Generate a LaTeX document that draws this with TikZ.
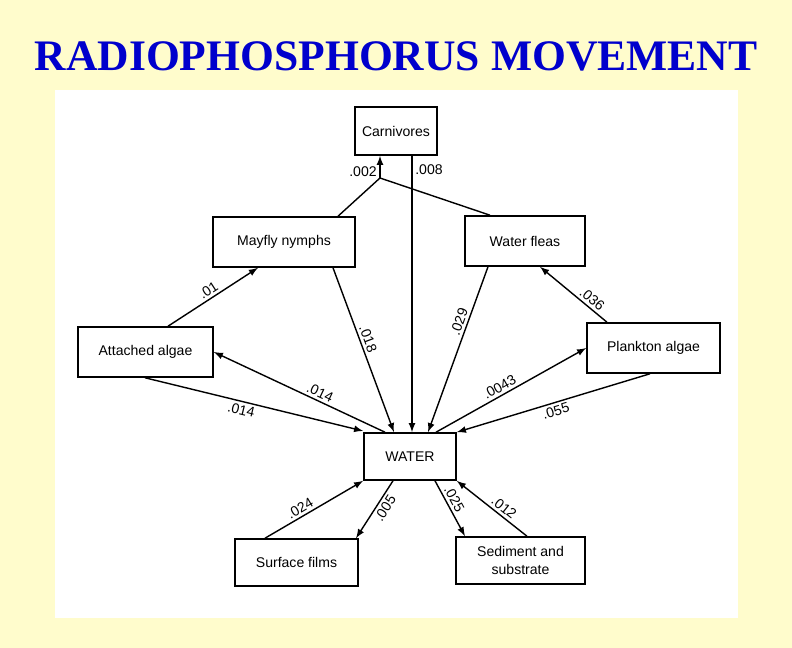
\documentclass[tikz,border=0pt]{standalone}
\usepackage{fontspec}
\setmainfont{Liberation Serif}
\newfontfamily\labfont{Liberation Sans}
\begin{document}
\begin{tikzpicture}[x=0.02cm,y=-0.02cm,
  box/.style={draw,line width=0.9pt,inner sep=0pt,font=\labfont\fontsize{8}{10}\selectfont,align=center},
  fl/.style={line width=0.8pt,-latex},
  ln/.style={line width=0.8pt},
  lab/.style={font=\labfont\fontsize{8}{9}\selectfont,sloped,inner sep=1.5pt}]
\fill[yellow!20] (0,0) rectangle (792,648);
\useasboundingbox (0,0) rectangle (792,648);
\fill[white] (55,90) rectangle (738,618);
\node[font=\bfseries\fontsize{24.8}{28}\selectfont,text=blue!80!black] (title) at (396,56) {RADIOPHOSPHORUS MOVEMENT};
\node[box,minimum width=1.64cm,minimum height=0.96cm] (carn) at (396,131) {Carnivores};
\node[box,minimum width=2.84cm,minimum height=1.0cm] (may) at (284,242) {Mayfly nymphs};
\node[box,minimum width=2.4cm,minimum height=1.0cm] (flea) at (525,241) {Water fleas};
\node[box,minimum width=2.7cm,minimum height=1.0cm] (att) at (145.5,352) {Attached algae};
\node[box,minimum width=2.66cm,minimum height=1.0cm] (plk) at (653.5,348) {Plankton algae};
\node[box,minimum width=1.84cm,minimum height=0.94cm] (water) at (410,456.5) {WATER};
\node[box,minimum width=2.46cm,minimum height=0.94cm] (surf) at (296.5,562.5) {Surface films};
\node[box,minimum width=2.58cm,minimum height=0.94cm] (sed) at (520.5,560.5) {Sediment and\\substrate};
% junction
\coordinate (j) at (380,178);
\draw[ln] (may.north -| 338,0) -- (j);
\draw[ln] (flea.north -| 490,0) -- (j);
\draw[fl] (j) -- (carn.south -| 380,0) node[lab,pos=0.3,anchor=east,sloped=false] {.002};
\draw[fl] (carn.south -| 412,0) -- (water.north -| 412,0) node[lab,pos=0.05,anchor=west,sloped=false] {.008};
\draw[fl] (att.north -| 168,0) -- (may.south -| 258,0) node[lab,midway,above] {.01};
\draw[fl] (may.south -| 333,0) -- (water.north -| 394,0) node[lab,pos=0.45,above] {.018};
\draw[fl] (flea.south -| 488,0) -- (water.north -| 428,0) node[lab,pos=0.35,above] {.029};
\draw[fl] (plk.north -| 607,0) -- (flea.south -| 540,0) node[lab,pos=0.3,above] {.036};
\draw[fl] (water.north -| 385,0) -- (att.east |- 0,352) node[lab,pos=0.4,above] {.014};
\draw[fl] (att.south -| 145,0) -- (water.west |- 0,431) node[lab,pos=0.45,below] {.014};
\draw[fl] (water.north -| 436,0) -- (plk.west |- 0,348) node[lab,pos=0.45,above] {.0043};
\draw[fl] (plk.south -| 650,0) -- (water.north east) node[lab,pos=0.5,below] {.055};
\draw[fl] (surf.north -| 265,0) -- (water.south west) node[lab,pos=0.4,above] {.024};
\draw[fl] (water.south -| 393,0) -- (surf.north -| 356,0) node[lab,pos=0.4,below] {.005};
\draw[fl] (water.south -| 435,0) -- (sed.north -| 465,0) node[lab,pos=0.4,above] {.025};
\draw[fl] (sed.north -| 527,0) -- (water.south east) node[lab,pos=0.4,above] {.012};
\end{tikzpicture}
\end{document}
